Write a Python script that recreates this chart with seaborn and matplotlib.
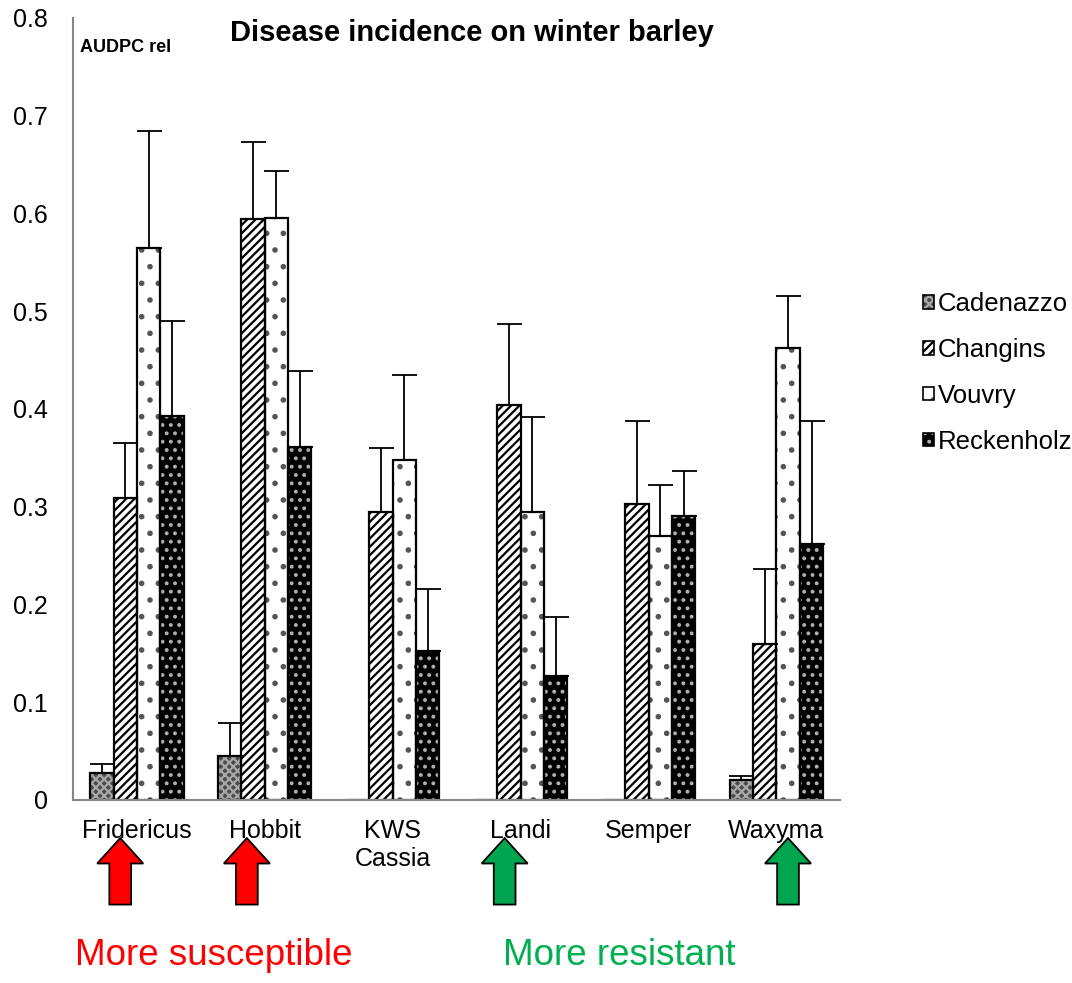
import numpy as np
import pandas as pd
import matplotlib.pyplot as plt
import matplotlib.patches as mpatches
import seaborn as sns

# data
varieties = ["Fridericus", "Hobbit", "KWS\nCassia", "Landi", "Semper", "Waxyma"]
sites = ["Cadenazzo", "Changins", "Vouvry", "Reckenholz"]
cadenazzo = [0.028, 0.045, 0.0, 0.0, 0.0, 0.020]
changins = [0.309, 0.594, 0.295, 0.404, 0.303, 0.160]
vouvry = [0.565, 0.595, 0.348, 0.295, 0.270, 0.462]
reckenholz = [0.393, 0.361, 0.152, 0.127, 0.290, 0.262]
cadenazzo_top = [0.037, 0.079, 0.0, 0.0, 0.0, 0.025]
changins_top = [0.365, 0.673, 0.360, 0.487, 0.388, 0.236]
vouvry_top = [0.684, 0.643, 0.435, 0.392, 0.322, 0.516]
reckenholz_top = [0.490, 0.439, 0.216, 0.187, 0.337, 0.388]
susceptible = ["Fridericus", "Hobbit"]
resistant = ["Landi", "Waxyma"]

values = [cadenazzo, changins, vouvry, reckenholz]
tops = [cadenazzo_top, changins_top, vouvry_top, reckenholz_top]

rows = []
for s, vals in zip(sites, values):
    for v, val in zip(varieties, vals):
        rows.append({"variety": v, "site": s, "value": val})
df = pd.DataFrame(rows)

sns.set_style("white")
plt.rcParams['font.family'] = ['Liberation Sans', 'DejaVu Sans']
plt.rcParams['hatch.linewidth'] = 1.6
plt.rcParams['text.color'] = 'black'
plt.rcParams['xtick.color'] = 'black'
plt.rcParams['ytick.color'] = 'black'

fig = plt.figure(figsize=(10.72, 9.83), dpi=100)
ax = fig.add_axes([0.068, 0.1862, 0.716, 0.7955])

sns.barplot(data=df, x="variety", y="value", hue="site", order=varieties,
            hue_order=sites, width=0.73, ax=ax, errorbar=None, legend=False)

# hatch styles per site: (face, hatch, hatch colour)
styles = [("#4a4a4a", "xxxx", "#a8a8a8"),
          ("white", "////", "black"),
          ("white", ".", "#555555"),
          ("black", "..", "#b0b0b0")]

for cont, (fc, hatch, hc), tp in zip(ax.containers, styles, tops):
    xs, hs = [], []
    for p, t in zip(cont.patches, tp):
        p.set_facecolor(fc)
        p.set_hatch(hatch)
        p.set_edgecolor(hc)
        p.set_linewidth(0)
        # outline drawn on top
        ax.add_patch(mpatches.Rectangle(p.get_xy(), p.get_width(), p.get_height(),
                                        fill=False, edgecolor="black", linewidth=1.6))
        xs.append(p.get_x() + p.get_width() / 2)
        hs.append(p.get_height())
    xs, hs = np.array(xs), np.array(hs)
    err = np.array(tp) - hs
    mask = err > 0
    ax.errorbar(xs[mask], hs[mask], yerr=[np.zeros(mask.sum()), err[mask]],
                fmt="none", ecolor="black", elinewidth=1.3, capsize=9, capthick=1.3)

ax.set_ylim(0, 0.8)
ax.set_xlim(-0.5, len(varieties) - 0.5)
ax.set_yticks(np.arange(0, 0.81, 0.1))
ax.set_yticklabels(["0"] + [f"{t:.1f}" for t in np.arange(0.1, 0.81, 0.1)], fontsize=18)
ax.set_xticks(range(len(varieties)))
ax.set_xticklabels(varieties, fontsize=18)
ax.set_xticks(np.arange(-0.5, len(varieties)), minor=True)
ax.tick_params(axis="x", which="major", length=0, pad=14)
ax.tick_params(axis="x", which="minor", length=6, color="#888888", width=1.5, direction="out")
ax.tick_params(axis="y", length=5, color="#888888", width=1.5, direction="out", pad=13)
ax.set_xlabel("")
ax.set_ylabel("")
sns.despine(ax=ax)
for sp in ["left", "bottom"]:
    ax.spines[sp].set_color("#888888")
    ax.spines[sp].set_linewidth(1.5)

ax.text(0.009, 0.957, "AUDPC rel", transform=ax.transAxes, fontsize=13, fontweight="bold")
ax.text(0.52, 0.97, "Disease incidence on winter barley", transform=ax.transAxes,
        fontsize=21, fontweight="bold", ha="center")

# legend: hatched patch with black outline on top
handles = [(mpatches.Patch(facecolor=fc, hatch=h, edgecolor=hc, linewidth=0),
            mpatches.Patch(fill=False, edgecolor="black", linewidth=1.2))
           for fc, h, hc in styles]
ax.legend(handles, sites, loc="center left", bbox_to_anchor=(1.094, 0.546), frameon=False,
          fontsize=18.5, handlelength=0.42, handleheight=0.42, handletextpad=0.15,
          labelspacing=0.85, borderaxespad=0)

# arrows under the axis
arrow_offsets = {"Fridericus": -0.13, "Hobbit": -0.14, "Landi": -0.125, "Waxyma": 0.09}
for name in susceptible + resistant:
    i = varieties.index(name)
    col = "#ff0000" if name in susceptible else "#00a550"
    arr = mpatches.FancyArrow(i + arrow_offsets[name], -0.107, 0, 0.068, width=0.17,
                              head_width=0.36, head_length=0.026, length_includes_head=True,
                              facecolor=col, edgecolor="black", linewidth=1.3, clip_on=False)
    ax.add_patch(arr)

fig.text(0.07, 0.018, "More susceptible", color="#ff0000", fontsize=26.5)
fig.text(0.469, 0.018, "More resistant", color="#00b050", fontsize=26.5)

fig.savefig("out.png", dpi=100)
